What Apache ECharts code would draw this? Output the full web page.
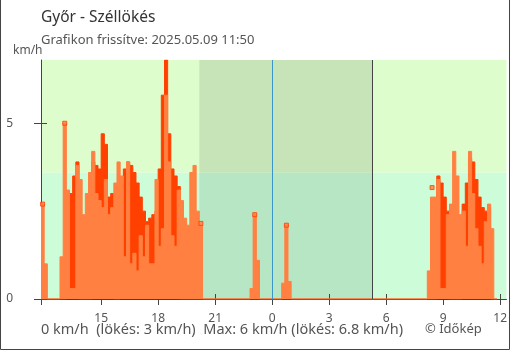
<!DOCTYPE html>
<html><head><meta charset="utf-8">
<script src="https://cdn.jsdelivr.net/npm/echarts@6/dist/echarts.min.js"></script>
<style>html,body{margin:0;padding:0;background:#fff}#c{width:510px;height:350px}</style>
</head><body><div id="c"></div>
<script>
const titleText = 'Győr - Széllökés';
const subtitleText = 'Grafikon frissítve: 2025.05.09 11:50';
const unitText = 'km/h';
const footerText = '0 km/h  (lökés: 3 km/h)  Max: 6 km/h (lökés: 6.8 km/h)';
const creditText = '© Időkép';

// time in minutes relative to midnight; series starts 11:50 the previous day, 10-minute steps
const startMin = -730;
const stepMin = 10;
const endMin = 740;

// light orange series (index 0 = 11:50)
const gustLight = [
 2.7,1.0,0,0,0,0,1.2,5.0,3.1,0.3,
 0.3,3.8,3.4,2.4,3.0,3.6,4.2,3.0,2.8,2.6,
 3.4,2.4,2.6,3.3,3.9,3.5,1.2,3.9,1.0,1.3,
 0.8,1.8,1.2,2.1,1.0,1.0,3.4,1.5,2.0,5.8,
 3.9,1.8,1.5,3.1,2.8,2.3,2.1,3.6,3.8,2.5,
 2.1,0,0,0,0,0,0,0,0,0,
 0,0,0,0,0,0,0.3,2.4,1.1,0,
 0,0,0,0,0,0,0.45,2.1,0.5,0,
 0,0,0,0,0,0,0,0,0,0,
 0,0,0,0,0,0,0,0,0,0,
 0,0,0,0,0,0,0,0,0,0,
 0,0,0,0,0,0,0,0,0,0,
 0,0,0.8,2.9,2.9,3.4,0.3,0.3,2.4,2.7,
 4.2,3.5,2.4,2.5,1.5,4.2,3.0,2.0,1.5,1.0,
 2.2,2.7,2.0,0,0
];
// dark red series
const gustDark = [
 0,0,0,0,0,0,0,0,2.6,3.0,
 3.5,3.9,0,0,0,0,3.9,3.8,3.7,4.7,
 4.4,2.9,3.0,0,0,3.4,3.7,3.9,3.8,3.6,
 3.3,2.9,2.5,2.2,2.3,2.4,2.5,3.7,5.8,6.8,
 4.7,3.7,3.5,3.2,0,0,0,0,0,0,
 0,0,0,0,0,0,0,0,0,0,
 0,0,0,0,0,0,0,0,0,0,
 0,0,0,0,0,0,0,0,0,0,
 0,0,0,0,0,0,0,0,0,0,
 0,0,0,0,0,0,0,0,0,0,
 0,0,0,0,0,0,0,0,0,0,
 0,0,0,0,0,0,0,0,0,0,
 0,0,0,0,0,3.5,3.3,2.9,2.5,0,
 0,0,0,2.7,3.3,4.0,3.9,3.4,2.9,2.6,
 2.5,2.6,0,0,0
];
// isolated points drawn with a marker: [step index, value]
const markerIdx = [0,7,50,67,77,123];
const markerVal = [2.7,5.0,2.15,2.4,2.1,3.17];

const xTicks = [-540,-360,-180,0,180,360,540,720]; // 15,18,21,0,3,6,9,12 h
const yTicks = [0,5];
const yMax = 6.8;
const bandSplit = 3.6;
const sunsetMin = -230;  // 20:10
const sunriseMin = 317;  // 5:17

const C_LIGHT = '#ff8040', C_DARK = '#ff4000';
const FONT = '"Noto Sans"';

const toPairs = arr => arr.map((v,i)=>[startMin+i*stepMin, v]);

const chart = echarts.init(document.getElementById('c'), null, {renderer:'canvas'});
const axisCommon = {type:'value', min:startMin, max:endMin, splitLine:{show:false}};
chart.setOption({
  animation:false,
  textStyle:{fontFamily:FONT},
  grid:{left:41, right:1, top:60, bottom:51},
  xAxis:[
    Object.assign({}, axisCommon, {z:1,
      axisLine:{show:true, onZero:false, lineStyle:{color:'#444', width:1}},
      axisTick:{show:true, length:6, customValues:[startMin].concat(xTicks), lineStyle:{color:'#444'}},
      axisLabel:{customValues:xTicks, formatter:v=>String(((v/60)%24+24)%24), color:'#555', fontSize:12, fontFamily:FONT, margin:14}}),
    Object.assign({}, axisCommon, {z:1, position:'bottom',
      axisLine:{show:false, onZero:false},
      axisTick:{show:true, inside:true, length:5, customValues:xTicks, lineStyle:{color:'#444'}},
      axisLabel:{show:false}})
  ],
  yAxis:[
    {type:'value', min:0, max:yMax, z:1, splitLine:{show:false},
      axisLine:{show:true, onZero:false, lineStyle:{color:'#444'}},
      axisTick:{show:true, length:7, customValues:yTicks, lineStyle:{color:'#444'}},
      axisLabel:{customValues:yTicks, color:'#555', fontSize:12, fontFamily:FONT, margin:28}},
    {type:'value', min:0, max:yMax, z:1, position:'left', splitLine:{show:false},
      axisLine:{show:false, onZero:false},
      axisTick:{show:true, inside:true, length:6, customValues:yTicks, lineStyle:{color:'#444'}},
      axisLabel:{show:false}}
  ],
  series:[
    {type:'line', z:0, data:[[startMin,0]], showSymbol:false, lineStyle:{width:0}, silent:true,
      markArea:{silent:true, data:[
        [{xAxis:startMin, yAxis:0, itemStyle:{color:'#ccfdd8'}},{xAxis:endMin, yAxis:bandSplit}],
        [{xAxis:startMin, yAxis:bandSplit, itemStyle:{color:'#ddfdcc'}},{xAxis:endMin, yAxis:yMax}],
        [{xAxis:sunsetMin, yAxis:0, itemStyle:{color:'#b6e6c4'}},{xAxis:sunriseMin, yAxis:bandSplit}],
        [{xAxis:sunsetMin, yAxis:bandSplit, itemStyle:{color:'#c6e4b8'}},{xAxis:sunriseMin, yAxis:yMax}]
      ]},
      markLine:{silent:true, symbol:['none','none'], label:{show:false},
        data:[
          {xAxis:0, lineStyle:{color:'#3a96c8', width:1, type:'solid'}},
          {xAxis:sunriseMin, lineStyle:{color:'#444', width:1, type:'solid'}}
        ]}
    },
    {type:'line', z:2, step:'end', data:toPairs(gustDark), showSymbol:false,
      lineStyle:{color:C_DARK, width:1}, areaStyle:{color:C_DARK, opacity:1}},
    {type:'line', z:3, step:'end', data:toPairs(gustLight), showSymbol:false,
      lineStyle:{color:C_LIGHT, width:1}, areaStyle:{color:C_LIGHT, opacity:1}},
    {type:'scatter', z:4, symbol:'rect', symbolSize:4,
      data:markerIdx.map((idx,k)=>[startMin+idx*stepMin+5, markerVal[k]]),
      itemStyle:{color:C_LIGHT, borderColor:C_DARK, borderWidth:1}}
  ],
  graphic:[
    {type:'text', left:41, top:10, style:{text:titleText, font:'15.5px '+FONT, fill:'#333'}},
    {type:'text', left:41, top:34, style:{text:subtitleText, font:'13px '+FONT, fill:'#555'}},
    {type:'text', left:13, top:45, style:{text:unitText, font:'12px '+FONT, fill:'#555'}},
    {type:'text', left:41, top:322, style:{text:footerText, font:'14.5px '+FONT, fill:'#555'}},
    {type:'text', left:425, top:323, style:{text:creditText, font:'13px '+FONT, fill:'#555'}},
    {type:'polyline', shape:{points:[[0.5,0],[0.5,349.5],[509.5,349.5],[509.5,0]]}, style:{stroke:'#444', lineWidth:1, fill:null}, z:10}
  ]
});
</script></body></html>
